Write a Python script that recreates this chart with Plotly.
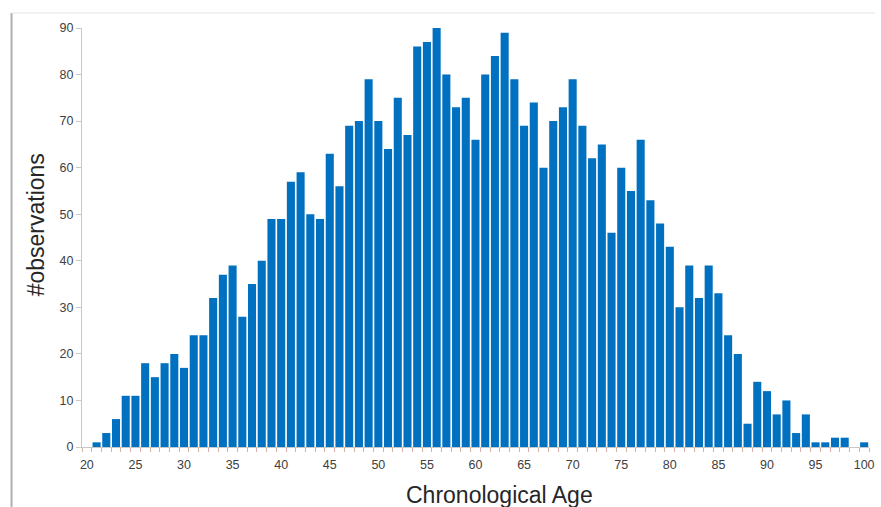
import plotly.graph_objects as go

ages = list(range(20, 101))
counts = [0, 1, 3, 6, 11, 11, 18, 15, 18, 20,
          17, 24, 24, 32, 37, 39, 28, 35, 40, 49,
          49, 57, 59, 50, 49, 63, 56, 69, 70, 79,
          70, 64, 75, 67, 86, 87, 90, 80, 73, 75,
          66, 80, 84, 89, 79, 69, 74, 60, 70, 73,
          79, 69, 62, 65, 46, 60, 55, 66, 53, 48,
          43, 30, 39, 32, 39, 33, 24, 20, 5, 14,
          12, 7, 10, 3, 7, 1, 1, 2, 2, 0, 1]
x_ticks = list(range(20, 101, 5))
y_ticks = list(range(0, 91, 10))

W, H = 881, 507
fig = go.Figure()
fig.add_trace(go.Bar(x=ages, y=counts, marker=dict(color="#0070C0", line=dict(width=0))))

fig.update_layout(
    width=W, height=H,
    margin=dict(l=82, r=6, t=28, b=60),
    paper_bgcolor="white", plot_bgcolor="white",
    bargap=0.17, showlegend=False,
    font=dict(family="Liberation Sans, Arial, sans-serif", color="#404040"),
    xaxis=dict(range=[19.5, 100.5], tickmode="array", tickvals=x_ticks,
               ticktext=[str(v) for v in x_ticks], ticks="", showgrid=False,
               zeroline=False, showline=True, linecolor="#c8c8c8", linewidth=1,
               ticklabelstandoff=6,
               tickfont=dict(size=12.5, color="#404040"),
               minor=dict(ticks="outside", tickvals=[a + 0.5 for a in range(19, 101)],
                          ticklen=4, tickcolor="#d8b0a8", tickwidth=1, showgrid=False)),
    yaxis=dict(range=[0, 90], tickmode="array", tickvals=y_ticks, ticks="outside",
               ticklen=5, tickcolor="#c8c8c8", showgrid=False, zeroline=False,
               showline=True, linecolor="#c8c8c8", linewidth=1,
               tickfont=dict(size=12.5, color="#404040")),
    annotations=[
        dict(text="Chronological Age", xref="paper", yref="paper",
             x=(503 - 82) / (W - 88), y=-(495 - 447) / (447 - 28),
             xanchor="center", yanchor="middle", showarrow=False,
             font=dict(size=23, color="#262626")),
        dict(text="#observations", xref="paper", yref="paper",
             x=-(82 - 36) / (W - 88), y=(447 - 225) / (447 - 28),
             xanchor="center", yanchor="middle", textangle=-90, showarrow=False,
             font=dict(size=23, color="#262626")),
    ],
    shapes=[
        dict(type="line", xref="paper", yref="paper",
             x0=-(82 - 11) / (W - 88), x1=-(82 - 11) / (W - 88),
             y0=(447 - 13) / (447 - 28), y1=-(507 - 447) / (447 - 28),
             line=dict(color="#b0b0b0", width=2)),
        dict(type="line", xref="paper", yref="paper",
             x0=-(82 - 11) / (W - 88), x1=(881 - 82) / (W - 88),
             y0=(447 - 13) / (447 - 28), y1=(447 - 13) / (447 - 28),
             line=dict(color="#e4e4e4", width=1)),
    ],
)

fig.write_html("out.html")
